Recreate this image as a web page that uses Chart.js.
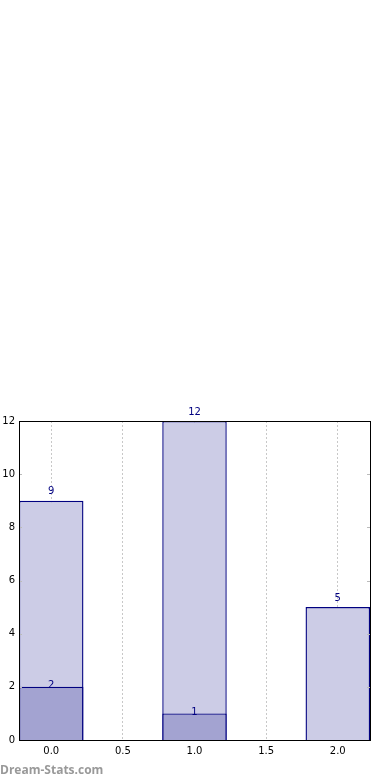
<!DOCTYPE html>
<html>
<head>
<meta charset="utf-8">
<script src="https://cdn.jsdelivr.net/npm/chart.js@4"></script>
<style>
html,body{margin:0;padding:0;background:#fff;}
#wrap{position:relative;width:390px;height:780px;}
#mark{position:absolute;left:0;top:761px;font:bold 12px "Open Sans",sans-serif;color:#999;}
</style>
</head>
<body>
<div id="wrap"><canvas id="c" width="390" height="780"></canvas><div id="mark">Dream-Stats.com</div></div>
<script>
const categories = [0, 1, 2];
const totalValues = [9, 12, 5];
const innerValues = [2, 1, 0];
const xTicks = [0, 0.5, 1, 1.5, 2];
const yTicks = [0, 2, 4, 6, 8, 10, 12];

const labelPlugin = {
  id: 'labels',
  afterDatasetsDraw(chart) {
    const ctx = chart.ctx;
    const xs = chart.scales.x, ys = chart.scales.y;
    ctx.save();
    ctx.fillStyle = '#000080';
    ctx.font = '10px "DejaVu Sans"';
    ctx.textAlign = 'center';
    ctx.textBaseline = 'middle';
    categories.forEach((c, i) => {
      const x = xs.getPixelForValue(c);
      ctx.fillText(String(totalValues[i]), x, ys.getPixelForValue(totalValues[i]) - 9);
      if (innerValues[i] > 0) {
        ctx.fillText(String(innerValues[i]), x, ys.getPixelForValue(innerValues[i]) - 1);
      }
    });
    ctx.restore();
  },
  afterDraw(chart) {
    const ctx = chart.ctx, a = chart.chartArea;
    const ys = chart.scales.y;
    ctx.save();
    ctx.strokeStyle = '#bbb';
    ctx.lineWidth = 1;
    yTicks.forEach(v => {
      const y = Math.round(ys.getPixelForValue(v)) + 0.5;
      ctx.beginPath(); ctx.moveTo(a.left, y); ctx.lineTo(a.left + 3, y); ctx.stroke();
      ctx.beginPath(); ctx.moveTo(a.right, y); ctx.lineTo(a.right - 3, y); ctx.stroke();
    });
    ctx.strokeStyle = '#000';
    ctx.strokeRect(Math.round(a.left) + 0.5, Math.round(a.top) + 0.5, Math.round(a.right - a.left), Math.round(a.bottom - a.top));
    ctx.restore();
  }
};

new Chart(document.getElementById('c'), {
  type: 'bar',
  data: {
    datasets: [
      {
        data: categories.map((c, i) => ({x: c, y: innerValues[i]})),
        backgroundColor: '#a3a3d1',
        borderColor: '#000080',
        borderWidth: 1.4,
        borderSkipped: 'bottom',
        grouped: false,
        barPercentage: 0.9,
        categoryPercentage: 1
      },
      {
        data: categories.map((c, i) => ({x: c, y: totalValues[i]})),
        backgroundColor: '#ccccE6',
        borderColor: '#000080',
        borderWidth: 1.4,
        borderSkipped: 'bottom',
        grouped: false,
        barPercentage: 0.9,
        categoryPercentage: 1
      }
    ]
  },
  options: {
    responsive: false,
    animation: false,
    events: [],
    layout: {padding: {top: 421, right: 20, left: 0, bottom: 0}},
    plugins: {legend: {display: false}, tooltip: {enabled: false}},
    scales: {
      x: {
        type: 'linear',
        offset: false,
        min: -0.225,
        max: 2.225,
        afterBuildTicks(s) { s.ticks = xTicks.map(v => ({value: v})); },
        afterFit(s) { s.height = 40; },
        grid: {display: true, offset: false, color: '#c8c8c8', tickLength: 0, drawTicks: false, lineWidth: 1},
        border: {display: false, dash: [2, 2]},
        ticks: {
          padding: 5,
          color: '#000',
          font: {family: 'DejaVu Sans', size: 10},
          maxRotation: 0,
          callback: v => Number(v).toFixed(1)
        }
      },
      y: {
        min: 0,
        max: 12,
        afterBuildTicks(s) { s.ticks = yTicks.map(v => ({value: v})); },
        afterFit(s) { s.width = 19; },
        grid: {display: false, drawTicks: false},
        border: {display: false},
        ticks: {
          padding: 4,
          color: '#000',
          font: {family: 'DejaVu Sans', size: 10}
        }
      }
    }
  },
  plugins: [labelPlugin]
});
</script>
</body>
</html>
